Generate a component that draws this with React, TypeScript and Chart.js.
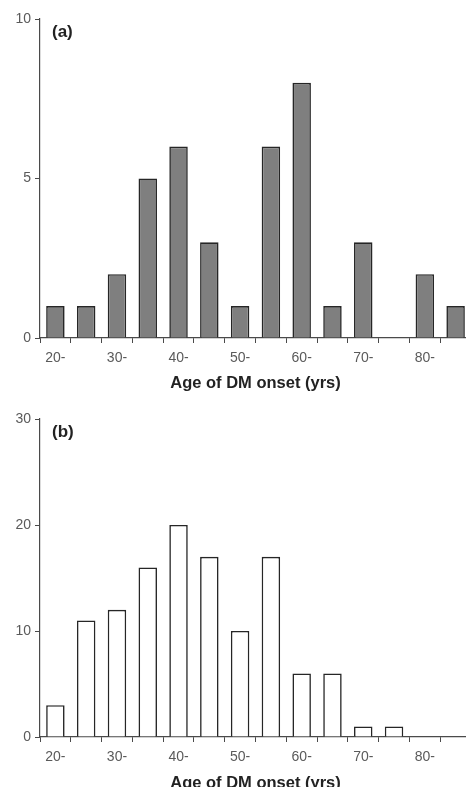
import React, { useEffect, useRef } from "react";
import { Chart, registerables } from "chart.js";

Chart.register(...registerables);

const categories = ["20-", "25-", "30-", "35-", "40-", "45-", "50-", "55-", "60-", "65-", "70-", "75-", "80-", "85-"];
const shownTickLabels = ["20-", "30-", "40-", "50-", "60-", "70-", "80-"];
const seriesA = [1, 1, 2, 5, 6, 3, 1, 6, 8, 1, 3, 0, 2, 1];
const seriesB = [3, 11, 12, 16, 20, 17, 10, 17, 6, 6, 1, 1, 0, 0];
const xTitle = "Age of DM onset (yrs)";

const FONT = "'Liberation Sans', Arial, sans-serif";
const AXIS = "#4a4a4a";

function makeConfig(data: number[], max: number, step: number, panel: string, fill: string, topPad: number, xHeight: number) {
  const panelLabel = {
    id: "panelLabel",
    afterDraw(chart: any) {
      const ctx = chart.ctx;
      const a = chart.chartArea;
      ctx.save();
      ctx.font = `bold 17px ${FONT}`;
      ctx.fillStyle = "#222";
      ctx.textAlign = "left";
      ctx.textBaseline = "middle";
      ctx.fillText(panel, a.left + 12, a.top + 13);
      ctx.restore();
    },
  };
  return {
    type: "bar" as const,
    data: {
      labels: categories,
      datasets: [
        {
          data,
          backgroundColor: fill,
          borderColor: "#262626",
          borderWidth: 1.6,
          categoryPercentage: 1,
          barPercentage: 0.6,
        },
      ],
    },
    options: {
      responsive: false,
      animation: false,
      layout: { padding: { top: topPad, left: 0, right: 0, bottom: 0 } },
      plugins: { legend: { display: false }, tooltip: { enabled: false }, title: { display: false } },
      scales: {
        x: {
          offset: true,
          afterFit(scale: any) {
            scale.height = xHeight;
          },
          border: { display: true, color: AXIS, width: 1.2 },
          grid: { display: true, drawOnChartArea: false, drawTicks: true, tickLength: 5, color: AXIS, offset: true },
          ticks: {
            autoSkip: false,
            maxRotation: 0,
            padding: 7,
            color: "#5a5a5a",
            font: { family: FONT, size: 14 },
            callback: (_v: any, i: number) => (i % 2 === 0 ? shownTickLabels[i / 2] : ""),
          },
          title: {
            display: true,
            text: xTitle,
            color: "#222",
            font: { family: FONT, size: 16.5, weight: "bold" as const },
            padding: { top: 0, bottom: 2 },
          },
        },
        y: {
          min: 0,
          max,
          afterFit(scale: any) {
            scale.width = 40;
          },
          border: { display: true, color: AXIS, width: 1.2 },
          grid: { display: true, drawOnChartArea: false, drawTicks: true, tickLength: 5, color: AXIS },
          ticks: {
            stepSize: step,
            padding: 4,
            color: "#5a5a5a",
            font: { family: FONT, size: 14 },
          },
        },
      },
    },
    plugins: [panelLabel],
  };
}

export default function App() {
  const refA = useRef<HTMLCanvasElement>(null);
  const refB = useRef<HTMLCanvasElement>(null);

  useEffect(() => {
    const cA = new Chart(refA.current!, makeConfig(seriesA, 10, 5, "(a)", "#7f7f7f", 19, 57) as any);
    const cB = new Chart(refB.current!, makeConfig(seriesB, 30, 10, "(b)", "#ffffff", 24, 58) as any);
    return () => {
      cA.destroy();
      cB.destroy();
    };
  }, []);

  return (
    <div style={{ position: "fixed", top: 0, left: 0, width: 466, height: 787, overflow: "hidden", background: "#fff" }}>
      <canvas ref={refA} width={471} height={395} style={{ position: "absolute", left: 0, top: 0, width: 471, height: 395 }} />
      <canvas ref={refB} width={471} height={400} style={{ position: "absolute", left: 0, top: 395, width: 471, height: 400 }} />
    </div>
  );
}
